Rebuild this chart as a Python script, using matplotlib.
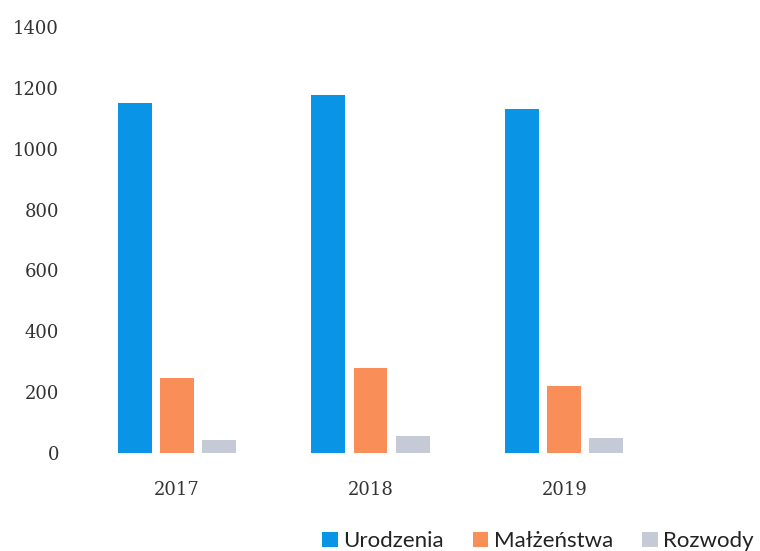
import matplotlib
matplotlib.use("Agg")
import matplotlib.pyplot as plt
import numpy as np

years = ["2017", "2018", "2019"]
series_names = ["Urodzenia", "Małżeństwa", "Rozwody"]
urodzenia = [1150, 1175, 1130]
malzenstwa = [247, 280, 220]
rozwody = [43, 55, 48]
yticks = [0, 200, 400, 600, 800, 1000, 1200, 1400]
colors = ["#0a94e6", "#fa8e58", "#c6cad6"]

fig = plt.figure(figsize=(7.6, 5.51), dpi=100)
ax = fig.add_axes([0.105, 0.178, 0.765, 0.773])

x = np.arange(len(years))
width = 0.175
step = 0.217
for i, (name, vals) in enumerate(zip(series_names, [urodzenia, malzenstwa, rozwody])):
    ax.bar(x + (i - 1) * step, vals, width, color=colors[i], label=name)

ax.set_xlim(-0.5, 2.5)
ax.set_ylim(0, 1400)
ax.set_yticks(yticks)
ax.set_yticklabels([str(v) for v in yticks], family="DejaVu Serif", fontsize=13, color="#333333")
ax.set_xticks(x)
ax.set_xticklabels(years, family="DejaVu Serif", fontsize=13, color="#333333")
ax.tick_params(axis="y", length=0, pad=15)
ax.tick_params(axis="x", length=0, pad=20)
for s in ax.spines.values():
    s.set_visible(False)

leg = fig.legend(loc="center", bbox_to_anchor=(0.708, 0.018), ncol=3, frameon=False,
                 prop={"family": "Lato", "size": 16}, handlelength=0.7, handleheight=0.7,
                 handletextpad=0.25, columnspacing=1.3)
for t in leg.get_texts():
    t.set_color("#222222")

fig.savefig("out.png", dpi=100)
